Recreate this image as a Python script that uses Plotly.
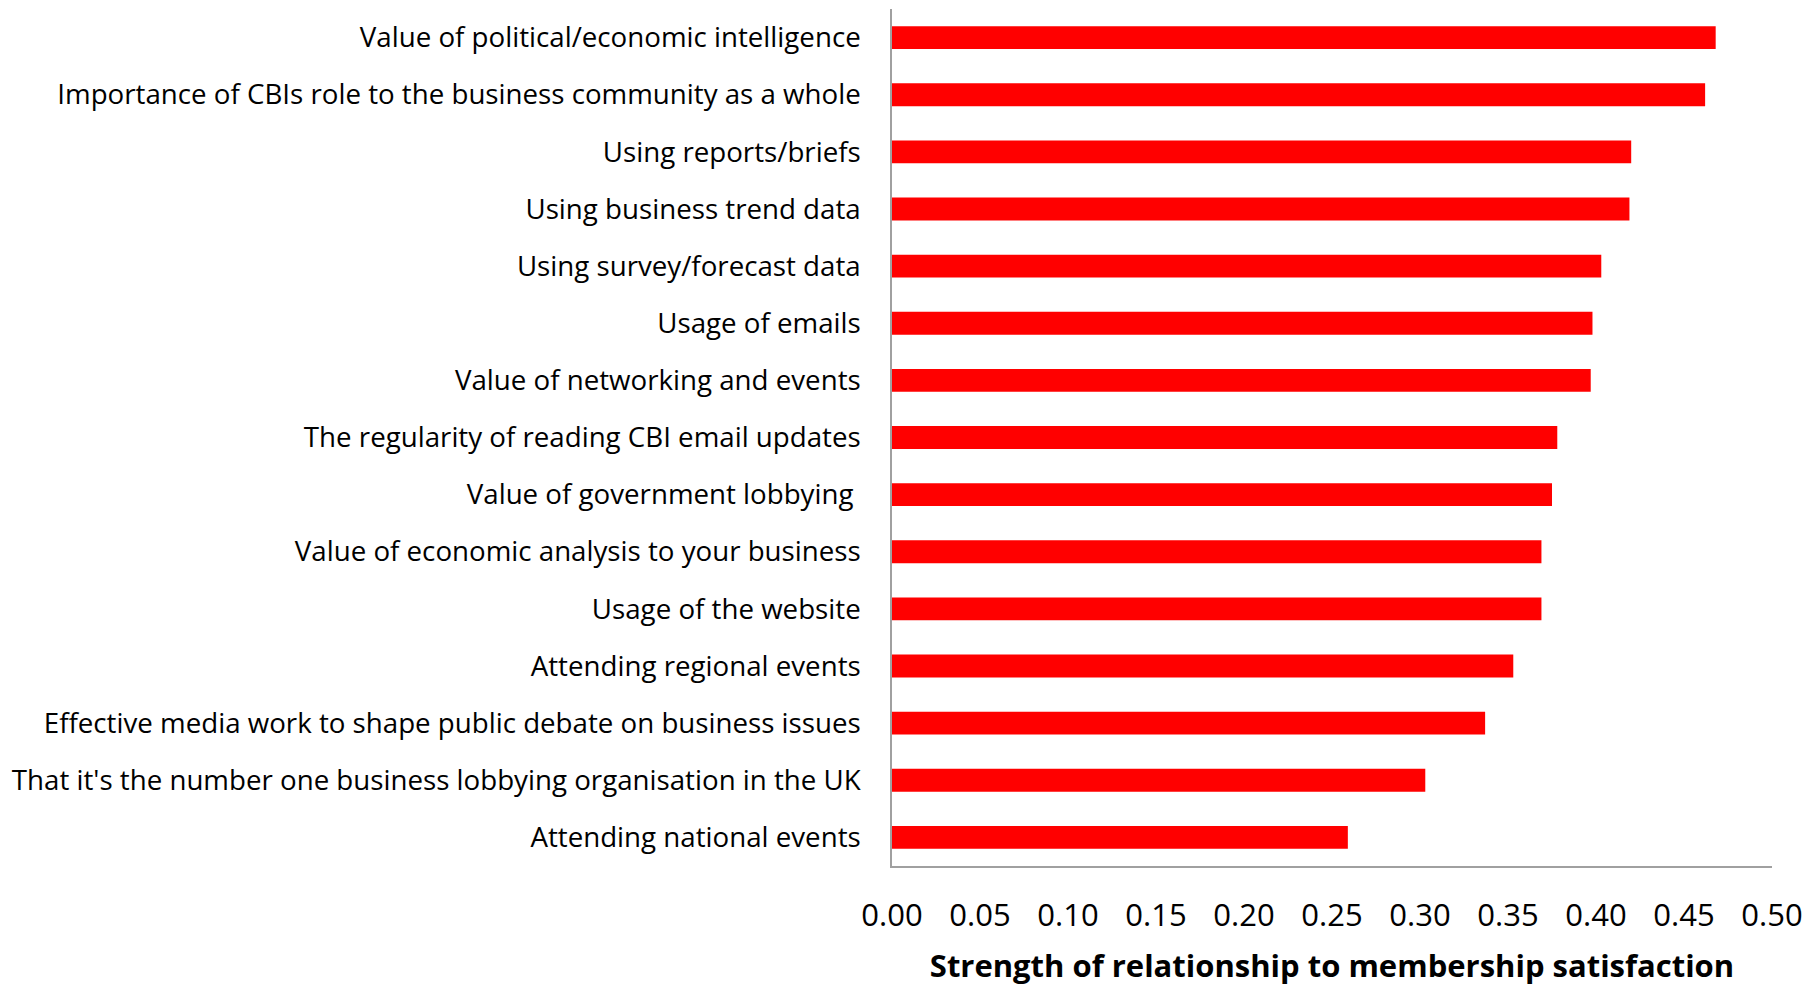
import plotly.graph_objects as go

categories = [
    "Value of political/economic intelligence",
    "Importance of CBIs role to the business community as a whole",
    "Using reports/briefs",
    "Using business trend data",
    "Using survey/forecast data",
    "Usage of emails",
    "Value of networking and events",
    "The regularity of reading CBI email updates",
    "Value of government lobbying\u00a0",
    "Value of economic analysis to your business",
    "Usage of the website",
    "Attending regional events",
    "Effective media work to shape public debate on business issues",
    "That it's the number one business lobbying organisation in the UK",
    "Attending national events",
]
values = [0.468, 0.462, 0.420, 0.419, 0.403, 0.398, 0.397, 0.378, 0.375,
          0.369, 0.369, 0.353, 0.337, 0.303, 0.259]
tick_vals = [0.00, 0.05, 0.10, 0.15, 0.20, 0.25, 0.30, 0.35, 0.40, 0.45, 0.50]
tick_text = ["%.2f" % v for v in tick_vals]
x_title = "Strength of relationship to membership satisfaction"

fig = go.Figure(go.Bar(
    x=values, y=categories, orientation="h",
    marker=dict(color="#FF0000", line=dict(width=0)),
))

fig.update_layout(
    width=1812, height=986,
    margin=dict(l=892, r=40, t=9, b=120, autoexpand=False),
    plot_bgcolor="white", paper_bgcolor="white",
    bargap=0.6,
    showlegend=False,
    font=dict(family="Open Sans", color="black"),
)
fig.update_xaxes(
    range=[0, 0.5], tickvals=tick_vals, ticktext=tick_text,
    showgrid=False, zeroline=False,
    showline=True, linecolor="#A0A0A0", linewidth=1.5,
    ticks="outside", ticklen=21, tickcolor="white",
    tickfont=dict(size=31, family="Open Sans", color="black"),
    title=dict(text="<b>" + x_title + "</b>", font=dict(size=31, family="Open Sans", color="black"), standoff=22),
)
fig.update_yaxes(
    autorange="reversed", showgrid=False, zeroline=False,
    showline=True, linecolor="#A0A0A0", linewidth=1.5,
    ticks="outside", ticklen=24, tickcolor="white",
    tickfont=dict(size=27.7, family="Open Sans", color="black"),
)

fig.write_html("out.html")
